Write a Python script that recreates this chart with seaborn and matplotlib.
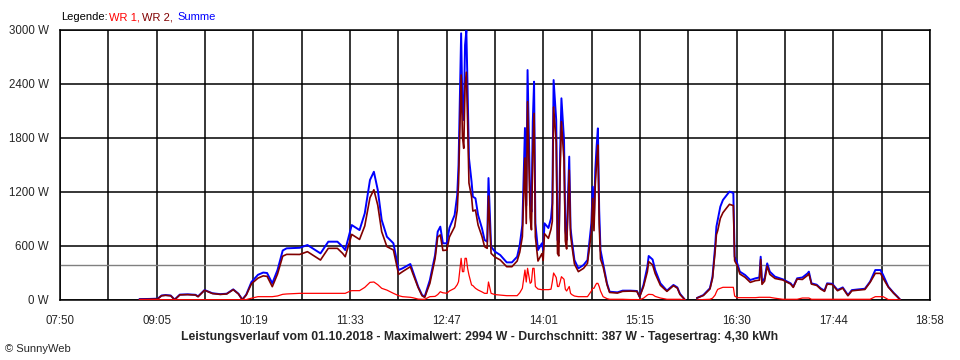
import pandas as pd
import seaborn as sns
import matplotlib.pyplot as plt

# Leistungsverlauf 01.10.2018
zeit = ["08:51", "08:59", "09:05", "09:08", "09:11", "09:15", "09:18", "09:22", "09:28", "09:34",
        "09:36", "09:41", "09:47", "09:53", "09:58", "10:03", "10:07", "10:10", "10:13", "10:17",
        "10:22", "10:26", "10:29", "10:33", "10:37", "10:41", "10:44", "10:54", "11:00", "11:04",
        "11:10", "11:16", "11:23", "11:27", "11:29", "11:33", "11:34", "11:38", "11:40", "11:44",
        "11:48", "11:51", "11:54", "11:57", "12:01", "12:06", "12:10", "12:13", "12:19", "12:21",
        "12:25", "12:28", "12:30", "12:34", "12:38", "12:40", "12:42", "12:44", "12:47", "12:49",
        "12:53", "12:55", "12:56", "12:58", "12:59", "13:00", "13:01", "13:02", "13:03", "13:04",
        "13:06", "13:07", "13:09", "13:11", "13:14", "13:16", "13:18", "13:19", "13:21", "13:24",
        "13:28", "13:33", "13:37", "13:41", "13:43", "13:45", "13:47", "13:48", "13:49", "13:51",
        "13:52", "13:53", "13:54", "13:55", "13:57", "14:00", "14:01", "14:02", "14:05", "14:07",
        "14:08", "14:09", "14:11", "14:12", "14:13", "14:14", "14:15", "14:17", "14:18", "14:19",
        "14:21", "14:22", "14:23", "14:25", "14:28", "14:32", "14:35", "14:38", "14:39", "14:40",
        "14:41", "14:42", "14:43", "14:44", "14:45", "14:47", "14:50", "14:52", "14:58", "15:02",
        "15:08", "15:13", "15:15", "15:18", "15:21", "15:22", "15:25", "15:27", "15:31", "15:36",
        "15:41", "15:44", "15:46", "15:50", "15:59", "16:04", "16:09", "16:11", "16:13", "16:14",
        "16:15", "16:17", "16:19", "16:22", "16:24", "16:27", "16:28", "16:30", "16:32", "16:36",
        "16:40", "16:44", "16:47", "16:48", "16:49", "16:51", "16:53", "16:55", "16:59", "17:05",
        "17:11", "17:13", "17:16", "17:20", "17:24", "17:25", "17:27", "17:31", "17:34", "17:37",
        "17:39", "17:43", "17:47", "17:51", "17:55", "17:58", "18:03", "18:08", "18:12", "18:16",
        "18:20", "18:22", "18:26", "18:30", "18:33", "18:35"]

wr1 = [3, 3, 3, 3, 3, 3, 3, 3, 3, 3,
       3, 3, 3, 3, 3, 3, 3, 3, 5, 20,
       37, 37, 37, 37, 45, 63, 67, 74, 74, 74,
       74, 74, 74, 74, 74, 100, 104, 104, 104, 140,
       196, 200, 170, 130, 110, 74, 48, 37, 30, 25,
       10, 8, 8, 37, 40, 60, 92, 80, 75, 100,
       130, 170, 204, 463, 315, 315, 463, 463, 350, 278,
       167, 160, 130, 111, 90, 74, 74, 200, 74, 60,
       55, 48, 48, 48, 80, 130, 333, 200, 352, 185,
       200, 352, 352, 150, 122, 115, 115, 115, 115, 120,
       200, 300, 250, 150, 150, 200, 259, 230, 120, 100,
       150, 74, 60, 44, 37, 37, 37, 100, 130, 130,
       160, 185, 185, 150, 100, 37, 15, 8, 8, 8,
       5, 5, 3, 20, 55, 63, 60, 40, 22, 8,
       8, 8, 8, 0, 0, 5, 8, 20, 55, 90,
       118, 130, 141, 141, 141, 141, 44, 26, 26, 26,
       26, 26, 30, 30, 30, 30, 30, 30, 20, 8,
       8, 8, 8, 22, 22, 22, 8, 8, 8, 8,
       8, 8, 8, 8, 8, 8, 8, 8, 8, 37,
       37, 37, 5, 5, 3, 0]

wr2 = [7, 9, 12, 47, 52, 47, 2, 57, 60, 55,
       37, 108, 72, 62, 67, 115, 67, 2, 55, 180,
       243, 268, 263, 148, 288, 487, 507, 506, 537, 500,
       444, 574, 574, 518, 481, 680, 729, 692, 673, 823,
       1137, 1225, 1052, 759, 593, 556, 285, 315, 370, 290,
       138, 47, 29, 185, 460, 699, 723, 550, 555, 700,
       814, 997, 1296, 2500, 1815, 1685, 2370, 2531, 1965, 1300,
       1148, 988, 1000, 833, 706, 593, 574, 1155, 518, 477,
       445, 370, 370, 433, 531, 703, 1578, 850, 2203, 915,
       780, 1629, 2074, 702, 433, 515, 440, 737, 685, 787,
       874, 2144, 1750, 517, 490, 1430, 1982, 1548, 657, 567,
       1443, 726, 607, 400, 315, 352, 407, 752, 1129, 770,
       1284, 1519, 1722, 850, 455, 370, 170, 84, 77, 96,
       99, 95, 34, 147, 315, 426, 390, 293, 163, 96,
       159, 132, 62, 0, 22, 50, 122, 239, 537, 725,
       771, 907, 970, 1026, 1063, 1049, 437, 381, 289, 252,
       196, 215, 220, 451, 174, 210, 377, 285, 239, 222,
       177, 140, 233, 228, 274, 293, 177, 162, 122, 96,
       177, 172, 103, 132, 47, 102, 110, 117, 196, 296,
       296, 241, 143, 76, 34, 5]

x_labels = ["07:50", "09:05", "10:19", "11:33", "12:47", "14:01", "15:15", "16:30", "17:44", "18:58"]
y_ticks = [0, 600, 1200, 1800, 2400, 3000]
y_labels = ["0 W", "600 W", "1200 W", "1800 W", "2400 W", "3000 W"]
durchschnitt = 387
titel = ("Leistungsverlauf vom 01.10.2018 - Maximalwert: 2994 W - "
         "Durchschnitt: 387 W - Tagesertrag: 4,30 kWh")

df = pd.DataFrame({"zeit": zeit, "WR 1": wr1, "WR 2": wr2})
df["Summe"] = df["WR 1"] + df["WR 2"]
hm = df["zeit"].str.split(":", expand=True).astype(int)
df["min"] = hm[0] * 60 + hm[1]
# Datenluecke zwischen 15:50 und 15:59
df["abschnitt"] = (df["min"] > 950).astype(int)

sns.set_style("white")
plt.rcParams["font.family"] = ["Liberation Sans", "DejaVu Sans"]

fig = plt.figure(figsize=(9.6, 3.6), dpi=100)
ax = fig.add_axes([60 / 960, 60 / 360, 870 / 960, 270 / 360])

t0, t1 = 470, 1138
ax.set_xlim(t0, t1)
ax.set_ylim(0, 3000)

ax.axhline(durchschnitt, color="#808080", lw=1.0, zorder=1)

sns.lineplot(data=df, x="min", y="Summe", units="abschnitt", estimator=None,
             color="#0000ff", lw=1.4, ax=ax, legend=False, zorder=3)
sns.lineplot(data=df, x="min", y="WR 2", units="abschnitt", estimator=None,
             color="#800000", lw=1.2, ax=ax, legend=False, zorder=4)
sns.lineplot(data=df, x="min", y="WR 1", units="abschnitt", estimator=None,
             color="#ff0000", lw=0.9, ax=ax, legend=False, zorder=5)

step = (t1 - t0) / 18
xt = [t0 + k * step for k in range(19)]
ax.set_xticks(xt)
ax.set_xticklabels([x_labels[k // 2] if k % 2 == 0 else "" for k in range(19)])
ax.set_yticks(y_ticks)
ax.set_yticklabels(y_labels)
ax.set_xlabel("")
ax.set_ylabel("")

ax.grid(True, color="black", lw=1.1)
ax.set_axisbelow(True)
for s in ax.spines.values():
    s.set_color("black")
    s.set_linewidth(1.1)
ax.tick_params(axis="both", direction="out", length=5, width=1.1, color="black",
               labelsize=8.3, pad=3)
ax.tick_params(axis="x", pad=6)

# Legende oben links
fs = 8.0
fig.text(61 / 960, 1 - 17 / 360, "Legende:", fontsize=fs, color="black", va="center")
fig.text(109 / 960, 1 - 17 / 360, "WR 1,", fontsize=fs, color="#ff0000", va="center")
fig.text(142 / 960, 1 - 17 / 360, "WR 2,", fontsize=fs, color="#800000", va="center")
fig.text(177 / 960, 1 - 17 / 360, "Summe", fontsize=fs, color="#0000ff", va="center")

fig.text(480 / 960, 1 - 337 / 360, titel, fontsize=8.8, fontweight="bold",
         ha="center", va="center")
fig.text(5 / 960, 1 - 349 / 360, "\u00a9 SunnyWeb", fontsize=8.0, va="center")

fig.savefig("out.png", dpi=100, facecolor="white")
